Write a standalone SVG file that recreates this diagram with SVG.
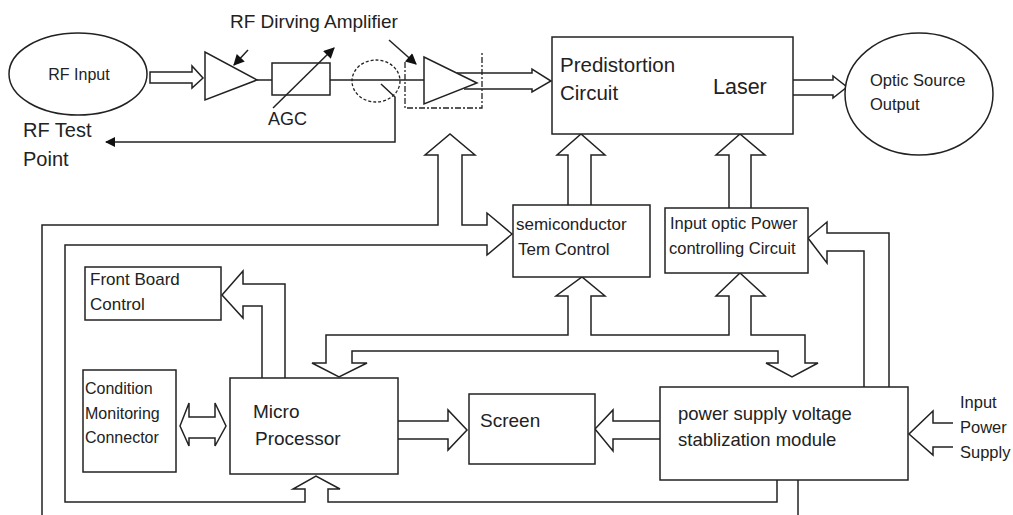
<svg xmlns="http://www.w3.org/2000/svg" width="1013" height="515" viewBox="0 0 1013 515">
<style>
.s{fill:none;stroke:#222;stroke-width:1.5}
.b{fill:#fff;stroke:#222;stroke-width:1.5}
.d{fill:none;stroke:#222;stroke-width:1.3;stroke-dasharray:3 2}
.dd{fill:none;stroke:#222;stroke-width:1.3;stroke-dasharray:6 2 2 2}
text{font-family:"Liberation Sans",Arial,sans-serif;fill:#222}
</style>
<defs>
<marker id="ah" viewBox="0 0 10 10" refX="9" refY="5" markerWidth="12" markerHeight="11" orient="auto" markerUnits="userSpaceOnUse">
<path d="M0,0 L10,5 L0,10 Z" fill="#111"/>
</marker>
<marker id="ah2" viewBox="0 0 10 10" refX="9" refY="5" markerWidth="16" markerHeight="10" orient="auto" markerUnits="userSpaceOnUse">
<path d="M0,0 L10,5 L0,10 Z" fill="#111"/>
</marker>
</defs>
<rect width="1013" height="515" fill="#fff"/>

<g id="connectors">
<path class="s" d="M150,72 H192 V66 L203,78 L192,88 V83 H150 Z"/>
<path class="s" d="M257,80 H272 M330,80 H424"/>
<path class="s" d="M381,84 L395,97 V142 H106" marker-end="url(#ah2)"/>
<path class="s" d="M457,73 H532 V69 L551,81 L532,92 V89 H464"/>
<path class="s" d="M793,80 H833 V76 L847,87 L833,98 V95 H793"/>
<path class="s" d="M568,205 V155 H557 L581,134 L605,155 H591 V205"/>
<path class="s" d="M729,208 V155 H716 L740,134 L765,155 H751 V208"/>
<path class="s" d="M42,515 V225 H438 V155 H425 L450,134 L475,155 H462 V225 H487 V213 L512,234 L487,255 V245 H65 V502 H305 V489 H293 L316,476 L340,489 H328 V502 H777 V480"/>
<path class="s" d="M798,480 V515"/>
<path class="s" d="M352,363 V351 H778 V363 H766 L792,377 L818,363 H805 V335 H751 V296 H765 L740,273 L716,296 H729 V335 H591 V296 H605 L582,277 L556,296 H568 V335 H326 V363 H312 L339,377 L367,363 Z"/>
<path class="s" d="M262,378 V306 H243 V318 L222,295 L243,271 V284 H285 V378"/>
<path class="s" d="M180,426 L189,403 V417 H215 V403 L226,426 L215,446 V438 H189 V446 Z"/>
<path class="s" d="M398,421 H448 V410 L467,430 L448,450 V439 H398"/>
<path class="s" d="M660,421 H613 V410 L595,429 L613,451 V439 H660"/>
<path class="s" d="M864,387 V251 H827 V263 L808,238 L827,222 V233 H889 V387"/>
<path class="s" d="M953,423 H933 V411 L909,434 L933,455 V447 H953"/>
<line class="s" x1="248" y1="50" x2="234" y2="65" marker-end="url(#ah)"/>
<line class="s" x1="389" y1="40" x2="416" y2="64" marker-end="url(#ah)"/>
</g>

<g id="rf-input">
<ellipse class="b" cx="78" cy="74" rx="69" ry="41"/>
<text x="79" y="80" font-size="16" text-anchor="middle">RF Input</text>
</g>

<g id="amp1">
<polygon class="b" points="205,52 205,100 257,80"/>
</g>

<g id="agc">
<rect class="b" x="272" y="63" width="58" height="32"/>
<line class="s" x1="273" y1="108" x2="334" y2="48" marker-end="url(#ah)"/>
<text x="268" y="125" font-size="18">AGC</text>
</g>

<g id="coupler">
<ellipse class="d" cx="376" cy="81" rx="24" ry="21"/>
</g>

<g id="amp2">
<polyline class="dd" points="405,62 405,108 482,108 482,52"/>
<polygon class="b" points="424,57 424,104 477,83"/>
</g>

<g id="label-rfdriving">
<text x="230" y="28" font-size="19">RF Dirving Amplifier</text>
</g>

<g id="label-rftest">
<text x="23" y="137" font-size="20">RF Test</text>
<text x="23" y="166" font-size="20">Point</text>
</g>

<g id="predistortion-laser">
<rect class="b" x="552" y="37" width="241" height="97"/>
<text x="560" y="72" font-size="20.5">Predistortion</text>
<text x="560" y="100" font-size="20.5">Circuit</text>
<text x="713" y="94" font-size="21.5">Laser</text>
</g>

<g id="optic-output">
<ellipse class="b" cx="919" cy="94" rx="74" ry="61"/>
<text x="870" y="86" font-size="16.5">Optic Source</text>
<text x="870" y="110" font-size="16.5">Output</text>
</g>

<g id="semiconductor">
<rect class="b" x="513" y="205" width="137" height="72"/>
<text x="516" y="230" font-size="17">semiconductor</text>
<text x="518" y="255" font-size="17">Tem Control</text>
</g>

<g id="input-optic">
<rect class="b" x="665" y="208" width="143" height="65"/>
<text x="670" y="229" font-size="16.5">Input optic Power</text>
<text x="669" y="254" font-size="16.5">controlling Circuit</text>
</g>

<g id="front-board">
<rect class="b" x="85" y="267" width="136" height="53"/>
<text x="90" y="285" font-size="17">Front Board</text>
<text x="90" y="310" font-size="17">Control</text>
</g>

<g id="condition">
<rect class="b" x="83" y="370" width="93" height="102"/>
<text x="85" y="394" font-size="16">Condition</text>
<text x="85" y="419" font-size="16">Monitoring</text>
<text x="85" y="443" font-size="16">Connector</text>
</g>

<g id="micro">
<rect class="b" x="230" y="378" width="168" height="96"/>
<text x="253" y="418" font-size="19">Micro</text>
<text x="255" y="445" font-size="19">Processor</text>
</g>

<g id="screen">
<rect class="b" x="469" y="394" width="126" height="70"/>
<text x="480" y="427" font-size="19">Screen</text>
</g>

<g id="power">
<rect class="b" x="660" y="387" width="248" height="93"/>
<text x="678" y="420" font-size="18.5">power supply voltage</text>
<text x="678" y="446" font-size="18.5">stablization module</text>
</g>

<g id="label-input-power">
<text x="960" y="408" font-size="16.5">Input</text>
<text x="960" y="433" font-size="16.5">Power</text>
<text x="960" y="458" font-size="16.5">Supply</text>
</g>
</svg>
